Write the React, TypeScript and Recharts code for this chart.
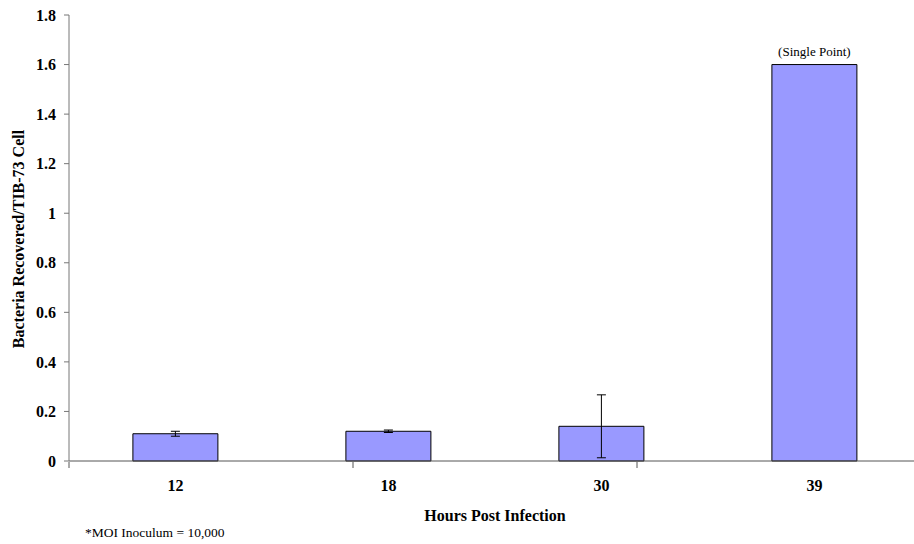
import React from 'react';
import { Bar, BarChart, ErrorBar, LabelList, XAxis, YAxis } from 'recharts';

// hours post infection
const hours = ['12', '18', '30', '39'];
const recovered = [0.11, 0.12, 0.14, 1.6];
const spread = [0.01, 0.005, 0.127, null];
const notes = [null, null, null, '(Single Point)'];
const yTicks = [0, 0.2, 0.4, 0.6, 0.8, 1, 1.2, 1.4, 1.6, 1.8];
const boundTicks = [0, 1, 2, 3, 4];

const data = hours.map((h, i) => ({
  hours: h,
  value: recovered[i],
  err: spread[i],
  note: notes[i],
}));

const serif = '"Liberation Serif", "Times New Roman", serif';

const YTitle = ({ viewBox }: any) => (
  <text
    x={viewBox.x + 18}
    y={239}
    transform={`rotate(-90, ${viewBox.x + 18}, 239)`}
    textAnchor="middle"
    dominantBaseline="central"
    fontFamily={serif}
    fontWeight="bold"
    fontSize={16}
    fill="#000"
  >
    Bacteria Recovered/TIB-73 Cell
  </text>
);

const XTitle = ({ viewBox }: any) => (
  <text
    x={viewBox.x + viewBox.width / 2}
    y={521}
    textAnchor="middle"
    fontFamily={serif}
    fontWeight="bold"
    fontSize={16}
    fill="#000"
  >
    Hours Post Infection
  </text>
);

const Note = (props: any) => {
  const { x, y, width, value } = props;
  if (!value) return null;
  return (
    <text
      x={x + width / 2}
      y={y - 9}
      textAnchor="middle"
      fontFamily={serif}
      fontSize={13}
      fill="#000"
    >
      {value}
    </text>
  );
};

const App = () => {
  return (
    <div
      style={{
        position: 'fixed',
        left: 0,
        top: 0,
        width: 914,
        height: 544,
        overflow: 'hidden',
        background: '#fff',
      }}
    >
      <BarChart
        width={930}
        height={544}
        data={data}
        margin={{ top: 15, right: 9, bottom: 81, left: 0 }}
        barCategoryGap="30%"
      >
        <XAxis
          xAxisId="bounds"
          type="number"
          domain={[0, 4]}
          ticks={boundTicks}
          height={1}
          axisLine={false}
          tickLine={{ stroke: '#555' }}
          tickSize={6}
          tickFormatter={() => ''}
          allowDataOverflow
        />
        <XAxis
          dataKey="hours"
          height={1}
          axisLine={{ stroke: '#555' }}
          tickLine={false}
          tickSize={6}
          tickMargin={13}
          tick={{ fontFamily: serif, fontWeight: 'bold', fontSize: 16, fill: '#000' }}
          label={<XTitle />}
        />
        <YAxis
          width={69}
          domain={[0, 1.8]}
          ticks={yTicks}
          axisLine={{ stroke: '#777' }}
          tickLine={{ stroke: '#777' }}
          tickSize={5}
          tickMargin={8}
          tick={{ fontFamily: serif, fontWeight: 'bold', fontSize: 16, fill: '#000' }}
          label={<YTitle />}
        />
        <Bar dataKey="value" fill="#9999FF" stroke="#000" strokeWidth={1} isAnimationActive={false}>
          <ErrorBar dataKey="err" width={4.5} stroke="#000" strokeWidth={1} />
          <LabelList dataKey="note" content={<Note />} />
        </Bar>
      </BarChart>
      <div
        style={{
          position: 'absolute',
          left: 85,
          top: 526,
          fontFamily: serif,
          fontSize: 13.5,
          lineHeight: '14px',
          color: '#000',
        }}
      >
        *MOI Inoculum = 10,000
      </div>
    </div>
  );
};

export default App;
